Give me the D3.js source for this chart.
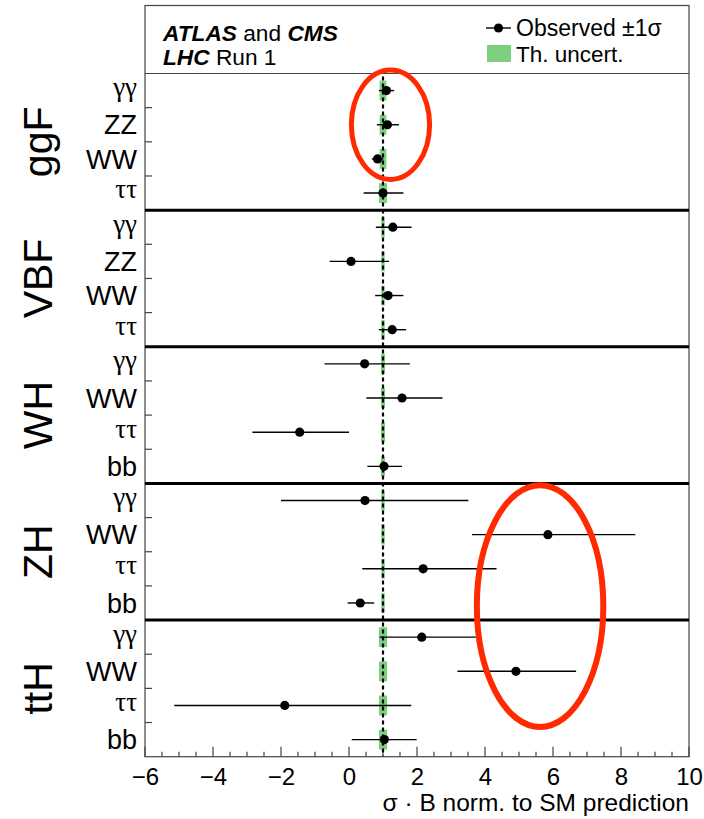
<!DOCTYPE html>
<html>
<head>
<meta charset="utf-8">
<script src="https://cdn.jsdelivr.net/npm/d3@7/dist/d3.min.js"></script>
<style>
  html, body { margin: 0; padding: 0; background: #fff; }
  svg { display: block; }
</style>
</head>
<body>
<svg id="chart" width="704" height="819"></svg>
<script>
// Production modes and the decay channels measured for each
const productions = ["ggF", "VBF", "WH", "ZH", "ttH"];
const decays = [
  ["γγ", "ZZ", "WW", "ττ"],
  ["γγ", "ZZ", "WW", "ττ"],
  ["γγ", "WW", "ττ", "bb"],
  ["γγ", "WW", "ττ", "bb"],
  ["γγ", "WW", "ττ", "bb"]
];
// Best-fit σ·B relative to the SM, with the ±1σ interval
const observed = [
  [1.10, 1.13, 0.84, 1.00],
  [1.29, 0.06, 1.15, 1.27],
  [0.46, 1.56, -1.45, 1.03],
  [0.47, 5.85, 2.18, 0.33],
  [2.14, 4.91, -1.89, 1.04]
];
const lower = [
  [0.88, 0.82, 0.67, 0.43],
  [0.79, -0.57, 0.77, 0.88],
  [-0.72, 0.51, -2.84, 0.54],
  [-2.00, 3.62, 0.39, -0.04],
  [0.90, 3.19, -5.14, 0.08]
];
const upper = [
  [1.33, 1.47, 1.01, 1.60],
  [1.84, 1.18, 1.60, 1.68],
  [1.79, 2.75, 0.00, 1.56],
  [3.51, 8.42, 4.34, 0.74],
  [3.73, 6.68, 1.83, 1.99]
];
// Theory uncertainty (half width) on the SM prediction
const theory = [
  [0.10, 0.10, 0.10, 0.12],
  [0.05, 0.05, 0.05, 0.05],
  [0.06, 0.06, 0.06, 0.06],
  [0.05, 0.05, 0.05, 0.05],
  [0.12, 0.12, 0.12, 0.12]
];
const smPrediction = 1;
const xTicks = [-6, -4, -2, 0, 2, 4, 6, 8, 10];
const xTitle = "σ · B norm. to SM prediction";
// Highlight ellipses: centre (value, row position) and radii (value units, rows)
const highlightCx = [1.22, 5.62];
const highlightCy = [1.50, 15.59];
const highlightRx = [1.15, 1.86];
const highlightRy = [1.60, 3.54];

// ---- layout ----
const left = 145, right = 689;
const headerTop = 5.5, plotTop = 73.5, plotBottom = 756.7;
const svg = d3.select("#chart");
const sans = "'Liberation Sans', Arial, Helvetica, sans-serif";
const serif = "'Liberation Serif', 'Times New Roman', serif";
const green = "#7dd07e";

// flatten rows
const rows = [];
productions.forEach((p, i) => decays[i].forEach((d, j) => rows.push({
  prod: p, decay: d, gi: i, mu: observed[i][j], lo: lower[i][j], hi: upper[i][j], th: theory[i][j]
})));
rows.forEach((r, k) => r.key = k);

const x = d3.scaleLinear().domain([-6, 10]).range([left, right]);
const y = d3.scaleBand().domain(rows.map(r => r.key)).range([plotTop, plotBottom]).padding(0);
const rowH = y.bandwidth();
const rowPos = d3.scaleLinear().domain([0, rows.length]).range([plotTop, plotBottom]);

// theory bands
svg.append("g").selectAll("rect").data(rows).join("rect")
  .attr("x", d => x(smPrediction - d.th))
  .attr("width", d => x(smPrediction + d.th) - x(smPrediction - d.th))
  .attr("y", d => y(d.key) + rowH * 0.21)
  .attr("height", rowH * 0.58)
  .attr("fill", green);

// SM reference line
svg.append("line")
  .attr("x1", x(smPrediction)).attr("x2", x(smPrediction))
  .attr("y1", plotTop + 3).attr("y2", plotBottom)
  .attr("stroke", "#000").attr("stroke-width", 2.2).attr("stroke-dasharray", "4,3");

// error bars and markers
const pts = svg.append("g");
pts.selectAll("line").data(rows).join("line")
  .attr("x1", d => x(d.lo)).attr("x2", d => x(d.hi))
  .attr("y1", d => y(d.key) + rowH / 2).attr("y2", d => y(d.key) + rowH / 2)
  .attr("stroke", "#000").attr("stroke-width", 1.4);
pts.selectAll("circle").data(rows).join("circle")
  .attr("cx", d => x(d.mu)).attr("cy", d => y(d.key) + rowH / 2)
  .attr("r", 4.6).attr("fill", "#000");

// frame
const frame = svg.append("g").attr("fill", "none");
frame.append("rect").attr("x", left).attr("y", headerTop)
  .attr("width", right - left).attr("height", plotBottom - headerTop)
  .attr("stroke", "#444").attr("stroke-width", 1.2);
frame.append("line").attr("x1", left).attr("x2", right)
  .attr("y1", plotTop).attr("y2", plotTop).attr("stroke", "#444").attr("stroke-width", 1.2);
// separators between production modes
frame.selectAll("line.sep").data(d3.range(1, productions.length)).join("line")
  .attr("class", "sep")
  .attr("x1", left).attr("x2", right)
  .attr("y1", i => rowPos(i * 4)).attr("y2", i => rowPos(i * 4))
  .attr("stroke", "#000").attr("stroke-width", 3);

// y ticks between channels
frame.selectAll("line.yt").data(d3.range(1, rows.length).filter(k => k % 4 !== 0)).join("line")
  .attr("class", "yt")
  .attr("x1", left).attr("x2", left + 7)
  .attr("y1", k => rowPos(k)).attr("y2", k => rowPos(k))
  .attr("stroke", "#444").attr("stroke-width", 1.2);

// x axis
const xAxis = d3.axisBottom(x).tickValues(xTicks).tickSize(0).tickPadding(0)
  .tickFormat(d => d < 0 ? "\u2212" + Math.abs(d) : String(d));
const gx = svg.append("g").attr("transform", `translate(0,${plotBottom})`).call(xAxis);
gx.select(".domain").remove();
gx.selectAll("text").attr("y", 28).attr("dy", 0)
  .attr("font-family", sans).attr("font-size", 24).attr("fill", "#000");

const minor = d3.range(-6, 10.001, 0.5);
frame.selectAll("line.xt").data(minor).join("line")
  .attr("class", "xt")
  .attr("x1", d => x(d)).attr("x2", d => x(d))
  .attr("y1", plotBottom)
  .attr("y2", d => plotBottom - (Math.abs(d % 2) < 1e-9 ? 10 : 5))
  .attr("stroke", "#444").attr("stroke-width", 1.2);

svg.append("text").attr("x", right).attr("y", 811).attr("text-anchor", "end")
  .attr("font-family", sans).attr("font-size", 24.5).text(xTitle);

// channel labels
const isGreek = s => /[γτ]/.test(s);
svg.append("g").selectAll("text").data(rows).join("text")
  .attr("x", 137).attr("y", d => y(d.key) + rowH / 2)
  .attr("dy", d => isGreek(d.decay) ? "0.2em" : "0.36em").attr("text-anchor", "end")
  .attr("font-family", d => isGreek(d.decay) ? serif : sans)
  .attr("font-size", d => isGreek(d.decay) ? 27 : 27)
  .text(d => d.decay);

// production labels
svg.append("g").selectAll("text").data(productions).join("text")
  .attr("transform", (p, i) => `translate(52,${rowPos(i * 4 + 2)}) rotate(-90)`)
  .attr("text-anchor", "middle")
  .attr("font-family", sans).attr("font-size", 41)
  .text(p => p);

// header text
const h1 = svg.append("text").attr("x", 163).attr("y", 41)
  .attr("font-family", sans).attr("font-size", 22.7);
h1.append("tspan").attr("font-weight", "bold").attr("font-style", "italic").text("ATLAS");
h1.append("tspan").text(" and ");
h1.append("tspan").attr("font-weight", "bold").attr("font-style", "italic").text("CMS");
const h2 = svg.append("text").attr("x", 163).attr("y", 65)
  .attr("font-family", sans).attr("font-size", 22.7);
h2.append("tspan").attr("font-weight", "bold").attr("font-style", "italic").text("LHC");
h2.append("tspan").text(" Run 1");

// legend
const lg = svg.append("g");
lg.append("line").attr("x1", 486).attr("x2", 511).attr("y1", 28).attr("y2", 28)
  .attr("stroke", "#000").attr("stroke-width", 1.4);
lg.append("circle").attr("cx", 498.5).attr("cy", 28).attr("r", 4.6).attr("fill", "#000");
lg.append("text").attr("x", 516).attr("y", 36).attr("font-family", sans)
  .attr("font-size", 23).text("Observed ±1σ");
lg.append("rect").attr("x", 487).attr("y", 45).attr("width", 24).attr("height", 17).attr("fill", green);
lg.append("text").attr("x", 516).attr("y", 62).attr("font-family", sans)
  .attr("font-size", 22.5).text("Th. uncert.");

// highlight ellipses
svg.append("g").selectAll("ellipse").data(highlightCx).join("ellipse")
  .attr("cx", (d, i) => x(highlightCx[i]))
  .attr("cy", (d, i) => rowPos(highlightCy[i]))
  .attr("rx", (d, i) => x(highlightRx[i]) - x(0))
  .attr("ry", (d, i) => rowPos(highlightRy[i]) - rowPos(0))
  .attr("fill", "none").attr("stroke", "#ff2a00")
  .attr("stroke-width", (d, i) => i === 0 ? 5 : 6);
</script>
</body>
</html>
